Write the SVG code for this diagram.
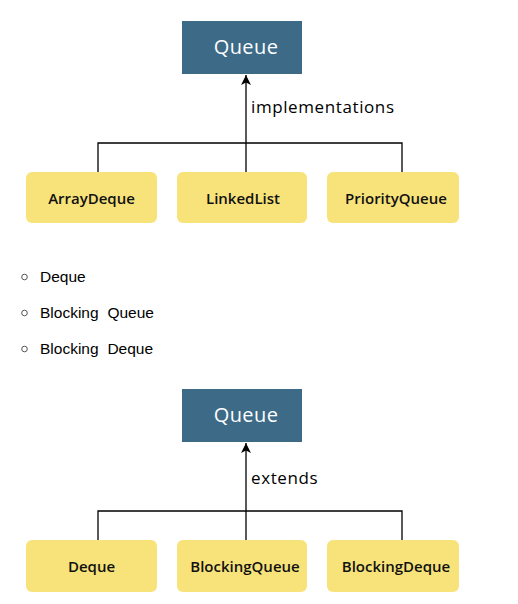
<svg xmlns="http://www.w3.org/2000/svg" width="518" height="604" viewBox="0 0 518 604">
<defs>
<marker id="arr" viewBox="0 0 10 10" refX="10" refY="5" markerWidth="10" markerHeight="10" markerUnits="userSpaceOnUse" orient="auto">
<path d="M0,0 L10,5 L0,10 L2.5,5 Z" fill="#000"/>
</marker>
<style>
.q{fill:#3c6a87}
.y{fill:#f8e37a}
.qt{font-family:"Open Sans","DejaVu Sans",sans-serif;font-size:20px;font-weight:500;fill:#fff;text-anchor:middle;letter-spacing:0.4px}
.yt{font-family:"Open Sans","DejaVu Sans",sans-serif;font-size:15px;font-weight:600;fill:#111;text-anchor:middle}
.lab{font-family:"Open Sans","DejaVu Sans",sans-serif;font-size:17px;font-weight:500;fill:#000;letter-spacing:0.6px}
.bt{font-family:"Liberation Sans",Arial,sans-serif;font-size:15.5px;fill:#000}
.line{fill:none;stroke:#000;stroke-width:1.3}
.bul{fill:none;stroke:#555;stroke-width:1}
</style>
</defs>
<rect width="518" height="604" fill="#fff"/>
<g id="connectors">
<path class="line" d="M98,172 V143 H402 V172"/>
<path class="line" d="M246,172 V75" marker-end="url(#arr)"/>
<path class="line" d="M98,540 V511 H402 V540"/>
<path class="line" d="M246,540 V443" marker-end="url(#arr)"/>
<text class="lab" x="251" y="113">implementations</text>
<text class="lab" x="251" y="484">extends</text>
</g>
<g id="queue1"><rect class="q" x="182" y="21" width="120" height="53"/><text class="qt" x="246" y="54">Queue</text></g>
<g id="arraydeque"><rect class="y" x="26" y="172" width="131" height="51" rx="6"/><text class="yt" x="91.5" y="204">ArrayDeque</text></g>
<g id="linkedlist"><rect class="y" x="177" y="172" width="130" height="51" rx="6"/><text class="yt" x="243" y="204">LinkedList</text></g>
<g id="priorityqueue"><rect class="y" x="327" y="172" width="132" height="51" rx="6"/><text class="yt" x="396" y="204">PriorityQueue</text></g>
<g id="list">
<circle class="bul" cx="24.5" cy="277" r="2.8"/><text class="bt" x="40" y="282">Deque</text>
<circle class="bul" cx="24.5" cy="313" r="2.8"/><text class="bt" x="40" y="318" word-spacing="4.5">Blocking Queue</text>
<circle class="bul" cx="24.5" cy="349" r="2.8"/><text class="bt" x="40" y="354" word-spacing="4.5">Blocking Deque</text>
</g>
<g id="queue2"><rect class="q" x="182" y="389" width="120" height="53"/><text class="qt" x="246" y="422">Queue</text></g>
<g id="deque"><rect class="y" x="26" y="540" width="131" height="52" rx="6"/><text class="yt" x="91.5" y="572">Deque</text></g>
<g id="blockingqueue"><rect class="y" x="177" y="540" width="130" height="52" rx="6"/><text class="yt" x="245" y="572">BlockingQueue</text></g>
<g id="blockingdeque"><rect class="y" x="327" y="540" width="132" height="52" rx="6"/><text class="yt" x="396" y="572">BlockingDeque</text></g>
</svg>
